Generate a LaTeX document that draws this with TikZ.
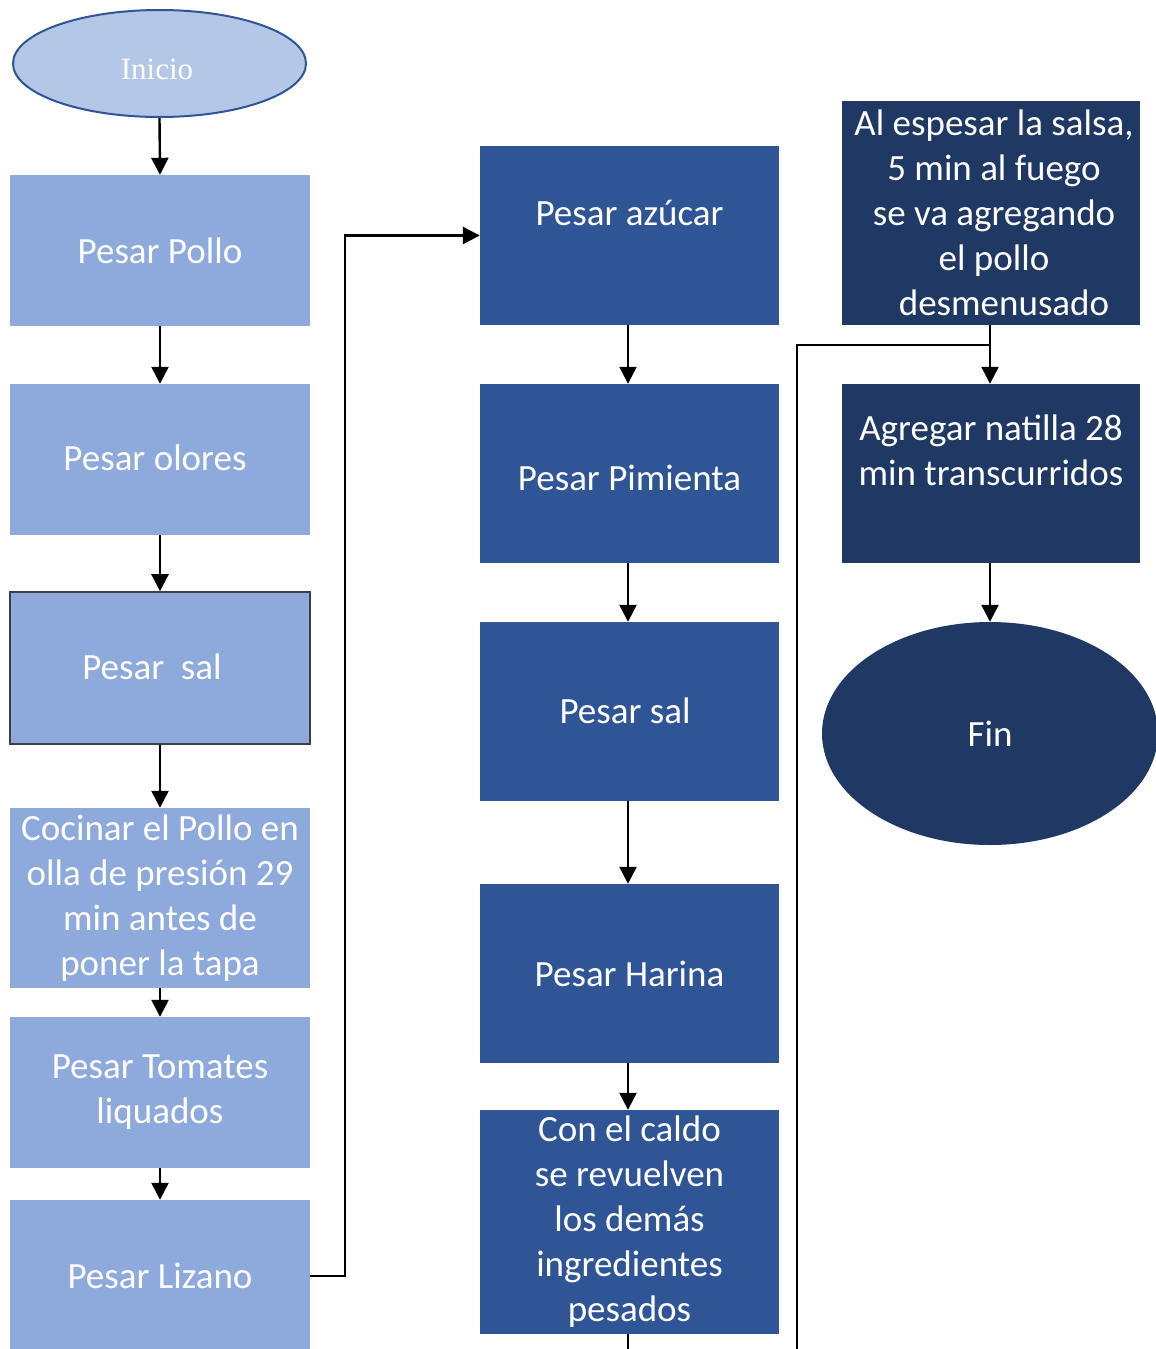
\documentclass[tikz,border=0pt]{standalone}
\usepackage{fontspec}
\setmainfont{Carlito}
\newfontfamily\startfont{Liberation Serif}
\usetikzlibrary{arrows.meta,shapes.geometric}
\definecolor{startfill}{HTML}{B4C7E7}
\definecolor{startline}{HTML}{2F5597}
\definecolor{lightfill}{HTML}{8EA9DB}
\definecolor{midfill}{HTML}{2F5597}
\definecolor{darkfill}{HTML}{203864}
\definecolor{saledge}{HTML}{3A3F4A}
\begin{document}
\begin{tikzpicture}[x=1pt,y=-1pt,
  boxtext/.style={font=\fontsize{37}{45}\selectfont, text=white, align=center},
  lbox/.style={rectangle, fill=lightfill, minimum width=300pt, inner sep=0pt, boxtext},
  mbox/.style={rectangle, fill=midfill, minimum width=299pt, minimum height=179pt, inner sep=0pt, boxtext},
  rbox/.style={rectangle, fill=darkfill, minimum width=298pt, inner sep=0pt, boxtext},
  arr/.style={-{Triangle[width=17pt,length=17pt]}, line width=2.4pt, black},
  wire/.style={line width=2.4pt, black}
]
\clip (0,0) rectangle (1156,1349);
\fill[white] (0,0) rectangle (1156,1349);

% start
\node[ellipse, fill=startfill, draw=startline, line width=2pt,
      minimum width=293pt, minimum height=107pt, inner sep=0pt] (inicio) at (159.5,63.5) {};
\node[font=\startfont\fontsize{31}{36}\selectfont, text=white] (inicioT) at (157,69) {Inicio};

% left column
\node[lbox, minimum height=151pt] (pollo) at (160,250.5) {Pesar Pollo};
\node[lbox, minimum height=151pt] (olores) at (160,459.5) {};
\node[boxtext] (oloresT) at (155,458) {Pesar olores};
\node[lbox, minimum height=152pt, draw=saledge, line width=1.6pt] (sal) at (160,668) {};
\node[boxtext] (salT) at (152,667) {Pesar~ sal};
\node[lbox, minimum height=180pt] (cocinar) at (160,898) {Cocinar el Pollo en\\olla de presión 29\\min antes de\\poner la tapa};
\node[lbox, minimum height=151pt] (tomates) at (160,1092.5) {Pesar Tomates\\liquados};
\node[lbox, minimum height=152pt] (lizano) at (160,1276) {Pesar Lizano};

% middle column
\node[mbox] (azucar) at (629.5,235.5) {};
\node[boxtext] (azucarT) at (629.5,213) {Pesar azúcar};
\node[mbox] (pimienta) at (629.5,473.5) {};
\node[boxtext] (pimientaT) at (629.5,478) {Pesar Pimienta};
\node[mbox] (salm) at (629.5,711.5) {};
\node[boxtext] (salmT) at (625,711) {Pesar sal};
\node[mbox] (harina) at (629.5,973.5) {Pesar Harina};
\node[mbox, minimum height=224pt] (caldo) at (629.5,1222) {Con el caldo\\se revuelven\\los demás\\ingredientes\\pesados};

% right column
\node[rbox, minimum height=224pt] (espesar) at (991,213) {};
\node[boxtext] (espesarT) at (994,213) {Al espesar la salsa,\\5 min al fuego\\se va agregando\\el pollo\\\hspace*{20pt}desmenusado};
\node[rbox, minimum height=179pt] (natilla) at (991,473.5) {};
\node[boxtext] (natillaT) at (991,450.5) {Agregar natilla 28\\min transcurridos};
\node[ellipse, fill=darkfill, minimum width=336pt, minimum height=223pt, inner sep=0pt, boxtext] (fin) at (990,733.5) {Fin};

% connectors, left column
\draw[arr] (inicio.south) -- (pollo.north);
\draw[arr] (pollo.south) -- (olores.north);
\draw[arr] (olores.south) -- (sal.north);
\draw[arr] (sal.south) -- (cocinar.north);
\draw[arr] (cocinar.south) -- (tomates.north);
\draw[arr] (tomates.south) -- (lizano.north);
\draw[arr] (lizano.east) -- ++(35,0) |- (azucar.west);

% connectors, middle column
\draw[arr] ([xshift=-1.5pt]azucar.south) -- ([xshift=-1.5pt]pimienta.north);
\draw[arr] ([xshift=-1.5pt]pimienta.south) -- ([xshift=-1.5pt]salm.north);
\draw[arr] ([xshift=-1.5pt]salm.south) -- ([xshift=-1.5pt]harina.north);
\draw[arr] ([xshift=-1.5pt]harina.south) -- ([xshift=-1.5pt]caldo.north);
\coordinate (caldoOut) at (628,1360);
\draw[wire] ([xshift=-1.5pt]caldo.south) -- (caldoOut);

% connectors, right column
\coordinate (join) at (990,345);
\coordinate (returnIn) at (797,1360);
\draw[arr] ([xshift=-1pt]espesar.south) -- ([xshift=-1pt]natilla.north);
\draw[wire] (returnIn) |- (join);
\draw[arr] ([xshift=-1pt]natilla.south) -- (fin.north);
\end{tikzpicture}
\end{document}
